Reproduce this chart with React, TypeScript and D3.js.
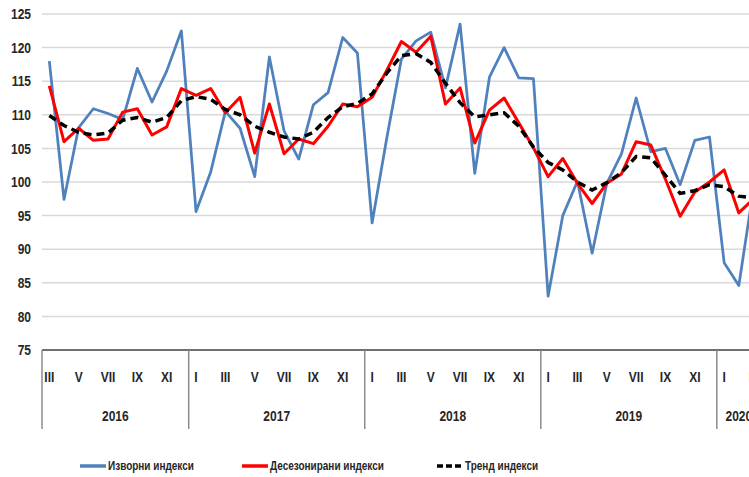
import React, { useEffect, useRef } from 'react';
import * as d3 from 'd3';

// categories: monthly periods, March 2016 - March 2020
const years: string[] = ["2016", "2017", "2018", "2019", "2020"];
const monthsInYear: number[] = [10, 12, 12, 12, 3];
const firstMonth = 3;
const romans: string[] = ["I", "II", "III", "IV", "V", "VI", "VII", "VIII", "IX", "X", "XI", "XII"];
const yTicks: number[] = [75, 80, 85, 90, 95, 100, 105, 110, 115, 120, 125];

// Изворни индекси
const original: number[] = [
    118, 97.4, 108.1, 110.9, 110.2, 109.3, 116.9, 111.9, 116.5, 122.5,
    95.6, 101.5, 110.5, 108, 100.8, 118.6, 107.6, 103.4, 111.5, 113.3, 121.5, 119.2,
    93.9, 106.5, 118.3, 121, 122.3, 114, 123.5, 101.3, 115.6, 120, 115.5, 115.4,
    83, 95, 100.1, 89.4, 99.8, 104.2, 112.5, 104.5, 105, 99.6, 106.2, 106.7,
    88, 84.6, 99,
];
// Десезонирани индекси
const seasonal: number[] = [
    114.3, 106, 108, 106.2, 106.4, 110.4, 110.9, 107, 108.2, 113.9,
    112.9, 113.9, 110.3, 112.6, 104.3, 111.6, 104.2, 106.4, 105.7, 108.3, 111.6, 111.2,
    112.6, 116.6, 120.9, 119.3, 121.7, 111.6, 114, 105.8, 110.7, 112.5, 108.8, 105.1,
    100.8, 103.5, 99.8, 96.8, 99.8, 101.2, 106, 105.5, 100.4, 94.9, 98.5, 100,
    101.8, 95.4, 97.5,
];
// Тренд индекси
const trend: number[] = [
    109.9, 108.4, 107.4, 107, 107.3, 109.2, 109.6, 108.9, 109.6, 112.1,
    112.7, 112.3, 110.8, 110, 108.3, 107.4, 106.7, 106.4, 107.4, 109.6, 111.2, 111.7,
    113.1, 116.2, 118.8, 119.1, 117.8, 114.7, 111.8, 109.7, 110, 110.3, 108.3, 105.2,
    102.9, 101.8, 100, 98.8, 99.9, 101.4, 103.8, 103.6, 101, 98.3, 98.7, 99.6,
    99.3, 97.9, 97.6,
];

const App: React.FC = () => {
    const chartRef = useRef<SVGSVGElement | null>(null);

    useEffect(() => {
        const node = chartRef.current;
        if (!node) return;

        const width = 749;
        const height = 477;
        const left = 42;
        const step = 14.67;
        const font = "'Liberation Sans', Arial, sans-serif";
        const squeeze = 0.8; // fake a narrow face

        // build period list
        const periods: { year: string; month: number }[] = [];
        years.forEach((yr, yi) => {
            const start = yi === 0 ? firstMonth : 1;
            for (let m = 0; m < monthsInYear[yi]; m++) periods.push({ year: yr, month: start + m });
        });
        const keys = periods.map((p) => `${p.year}-${p.month}`);

        const x = d3
            .scaleBand<string>()
            .domain(keys)
            .range([left, left + step * keys.length]);
        const cx = (i: number) => (x(keys[i]) ?? 0) + x.bandwidth() / 2;

        const y = d3.scaleLinear().domain([75, 125]).range([350, 14]);

        const svg = d3.select(node);
        svg.selectAll("*").remove();
        svg.append("rect").attr("width", width).attr("height", height).attr("fill", "#fff");

        const label = (
            g: d3.Selection<SVGGElement, unknown, null, undefined>,
            tx: number,
            ty: number,
            txt: string,
            size: number,
            anchor: string
        ) => {
            g.append("text")
                .attr("transform", `translate(${tx},${ty}) scale(${squeeze},1)`)
                .attr("dy", "0.35em")
                .attr("text-anchor", anchor)
                .style("font-family", font)
                .style("font-size", `${size}px`)
                .style("font-weight", "bold")
                .style("fill", "#262626")
                .text(txt);
        };

        // grid
        svg.append("g")
            .selectAll("line")
            .data(yTicks.filter((t) => t > 75))
            .enter()
            .append("line")
            .attr("x1", left)
            .attr("x2", width + 20)
            .attr("y1", (d) => y(d))
            .attr("y2", (d) => y(d))
            .attr("stroke", "#d9d9d9")
            .attr("stroke-width", 1.5);

        // y labels
        const yl = svg.append("g");
        yTicks.forEach((t) => label(yl, 31, y(t), String(t), 15, "end"));

        // category axis
        svg.append("line")
            .attr("x1", left)
            .attr("x2", width + 20)
            .attr("y1", y(75))
            .attr("y2", y(75))
            .attr("stroke", "#404040")
            .attr("stroke-width", 1.5);

        const bounds: number[] = [0];
        let acc = 0;
        monthsInYear.forEach((n) => { acc += n; bounds.push(acc); });
        svg.append("g")
            .selectAll("line")
            .data(bounds)
            .enter()
            .append("line")
            .attr("x1", (d) => left + d * x.step())
            .attr("x2", (d) => left + d * x.step())
            .attr("y1", y(75))
            .attr("y2", 429)
            .attr("stroke", "#8c8c8c")
            .attr("stroke-width", 1.5);

        const ml = svg.append("g");
        periods.forEach((p, i) => {
            if (p.month % 2 === 1) label(ml, cx(i), 377, romans[p.month - 1], 15, "middle");
        });

        const yrl = svg.append("g");
        years.forEach((yr, i) => {
            label(yrl, left + ((bounds[i] + bounds[i + 1]) / 2) * x.step(), 416, yr, 15, "middle");
        });

        // series
        const line = d3
            .line<number>()
            .x((_, i) => cx(i))
            .y((d) => y(d));

        svg.append("path")
            .datum(original)
            .attr("d", line)
            .attr("fill", "none")
            .attr("stroke", "#4f81bd")
            .attr("stroke-width", 2.75)
            .attr("stroke-linejoin", "round");

        svg.append("path")
            .datum(seasonal)
            .attr("d", line)
            .attr("fill", "none")
            .attr("stroke", "#ff0000")
            .attr("stroke-width", 3)
            .attr("stroke-linejoin", "round");

        svg.append("path")
            .datum(trend)
            .attr("d", line)
            .attr("fill", "none")
            .attr("stroke", "#000")
            .attr("stroke-width", 3.5)
            .attr("stroke-dasharray", "8,5");

        // legend
        const legend = [
            { label: "Изворни индекси", color: "#4f81bd", dash: null, x: 80 },
            { label: "Десезонирани индекси", color: "#ff0000", dash: null, x: 242 },
            { label: "Тренд индекси", color: "#000", dash: "6,3", x: 437 },
        ];
        const lg = svg.append("g");
        legend.forEach((d) => {
            lg.append("line")
                .attr("x1", d.x)
                .attr("x2", d.x + 26)
                .attr("y1", 466)
                .attr("y2", 466)
                .attr("stroke", d.color)
                .attr("stroke-width", 3.5)
                .attr("stroke-dasharray", d.dash);
            label(lg, d.x + 28, 466, d.label, 12.5, "start");
        });
    }, []);

    return (
        <svg
            ref={chartRef}
            width={749}
            height={477}
            style={{ position: 'absolute', left: 0, top: 0, overflow: 'hidden' }}
        />
    );
};

export default App;
